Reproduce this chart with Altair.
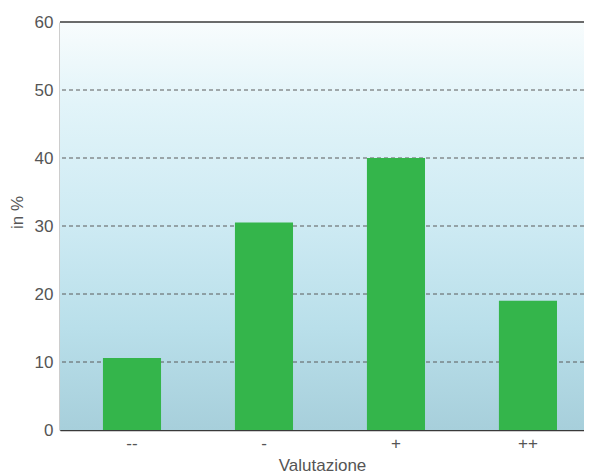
import altair as alt
import pandas as pd

categories = ["--", "-", "+", "++"]
values = [10.6, 30.5, 40.0, 19.0]
y_ticks = [0, 10, 20, 30, 40, 50, 60]
grid_values = [10, 20, 30, 40, 50]

W, H = 524, 408
FONT = "Liberation Sans"
TXT = "#555555"
AX = "#3a3a3a"

df = pd.DataFrame({"cat": categories, "val": values})
grid_df = pd.DataFrame({"t": grid_values})

ysc = alt.Scale(domain=[0, 60], nice=False, zero=True)
yaxis = alt.Axis(
    values=y_ticks, title="in %", ticks=False, grid=False, domainColor=AX,
    domainWidth=1.5, labelColor=TXT, labelFontSize=17, labelFont=FONT,
    labelPadding=7, titleFont=FONT, titleFontSize=17, titleColor=TXT,
    titleFontWeight="normal", titlePadding=8, titleY=190,
)

bg = alt.Chart(pd.DataFrame({"a": [0]})).mark_rect(
    color=alt.Gradient(
        gradient="linear",
        stops=[
            alt.GradientStop(color="#f8fcfd", offset=0),
            alt.GradientStop(color="#e2f4f9", offset=0.2),
            alt.GradientStop(color="#cdeaf3", offset=0.5),
            alt.GradientStop(color="#b9dfea", offset=0.75),
            alt.GradientStop(color="#a7cfdb", offset=1),
        ],
        x1=0, x2=0, y1=0, y2=1,
    )
).encode(x=alt.value(0), x2=alt.value(W), y=alt.value(0), y2=alt.value(H))

grid = alt.Chart(grid_df).mark_rule(
    strokeDash=[4, 3], color="#5a5a5a", strokeWidth=1
).encode(y=alt.Y("t:Q", scale=ysc, axis=yaxis, title="in %"))

top = alt.Chart(pd.DataFrame({"a": [0]})).mark_rule(color=AX, strokeWidth=1.5).encode(
    y=alt.datum(60, scale=ysc)
)

bars = alt.Chart(df).mark_bar(color="#34b54b").encode(
    x=alt.X(
        "cat:N",
        sort=categories,
        scale=alt.Scale(paddingInner=0.56, paddingOuter=0.265, align=0.614),
        axis=alt.Axis(
            title="Valutazione", labelAngle=0, ticks=False, domainColor=AX,
            domainWidth=1.5, labelColor=TXT, labelFontSize=17, labelFont=FONT,
            labelPadding=5, titleFont=FONT, titleFontSize=17, titleColor=TXT,
            titleFontWeight="normal", titlePadding=6,
        ),
    ),
    y=alt.Y("val:Q", scale=ysc, axis=yaxis, title="in %"),
)

chart = alt.layer(bg, grid, top, bars).properties(
    width=W, height=H, autosize="none",
    padding={"left": 52, "top": 14, "right": 0, "bottom": 44},
).configure_view(stroke=None).configure(background="white")

chart.save("out.html", embed_options={"renderer": "svg", "actions": False})
